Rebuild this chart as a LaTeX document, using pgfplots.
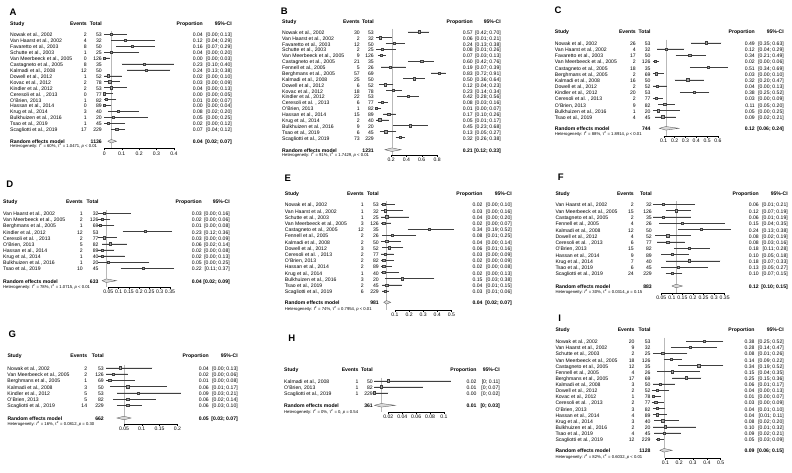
\documentclass[border=0pt]{standalone}
\usepackage{pgfplots}
\pgfplotsset{compat=1.18}
\usepackage{pgfplotstable}
\usepackage{fontspec}
\setmainfont{Liberation Sans}
\newcommand\ft{\fontsize{5.1}{6}\selectfont}
\newcommand\fh{\fontsize{4.2}{5}\selectfont}
\def\splitci#1,#2\relax{\symbol{91}#1; #2\symbol{93}}

\pgfplotsset{
 fp/.style={anchor=south west, y=1pt, axis x line*=bottom, axis y line=none, ytick=\empty,
   clip=false, enlargelimits=false, tick align=outside, major tick length=2pt,
   xticklabel style={font=\ft, inner sep=1pt},
   axis line style={line width=0.35pt, black},
   every tick/.style={black, line width=0.35pt}},
 refl/.style={gray!55, line width=0.35pt},
 diam/.style={fill=gray!30, draw=gray!60!black, line width=0.3pt},
}

\newcommand\textcol[4]{%
 \addplot[draw=none, mark=none, nodes near coords, point meta=explicit symbolic,
   every node near coord/.append style={anchor=#4, inner sep=0pt, text=black, font=\ft}]
   table[x expr={(#3-\pz)/\sl}, y expr={-(\ya+\thisrow{i}*\dy)}, meta=#2] {#1};
}
\newcommand\forest[1]{%
 \addplot[only marks, mark=square*, mark size=1.15pt, color=gray!50!black, fill=gray!70,
   mark options={solid, fill=gray!70, draw=gray!50!black, line width=0.25pt},
   error bars/.cd, x dir=both, x explicit, error mark=none,
   error bar style={black!75, line width=0.35pt}]
   table[x=p, y expr={-(\ya+\thisrow{i}*\dy)},
     x error plus expr={\thisrow{hi}-\thisrow{p}},
     x error minus expr={\thisrow{p}-\thisrow{lo}}] {#1};
 \textcol{#1}{study}{\cS}{mid west}
 \textcol{#1}{ev}{\cE}{mid east}
 \textcol{#1}{tot}{\cT}{mid east}
 \textcol{#1}{p}{\cP}{mid east}
 \addplot[draw=none, mark=none, point meta=explicit symbolic,
   nodes near coords={\expandafter\splitci\pgfplotspointmeta\relax},
   every node near coord/.append style={anchor=mid east, inner sep=0pt, text=black, font=\ft}]
   table[x expr={(\cC-\pz)/\sl}, y expr={-(\ya+\thisrow{i}*\dy)}, meta=ci] {#1};
}
\newcommand\hdr[4]{%
 \node[font=\fontsize{9.5}{11}\selectfont\bfseries, inner sep=0pt] at (#2pt,-#3pt) {#1};
 \node[font=\ft\bfseries, anchor=mid west, inner sep=0pt] at (\cS pt,-#4pt) {Study};
 \node[font=\ft\bfseries, anchor=mid east, inner sep=0pt] at (\cE pt,-#4pt) {Events};
 \node[font=\ft\bfseries, anchor=mid east, inner sep=0pt] at (\cT pt,-#4pt) {Total};
 \node[font=\ft\bfseries, anchor=mid east, inner sep=0pt] at (\cP pt,-#4pt) {Proportion};
 \node[font=\ft\bfseries, anchor=mid east, inner sep=0pt] at (\cC pt,-#4pt) {95\%-CI};
}
\newcommand\re[4]{%
 \node[font=\ft\bfseries, anchor=mid west, inner sep=0pt] at (\cS pt,-#1pt) {Random effects model};
 \node[font=\ft\bfseries, anchor=mid east, inner sep=0pt] at (\cT pt,-#1pt) {#2};
 \node[font=\ft\bfseries, anchor=mid east, inner sep=0pt] at (\cP pt,-#1pt) {#3};
 \node[font=\ft\bfseries, anchor=mid east, inner sep=0pt] at (\cC pt,-#1pt) {#4};
}
\newcommand\het[4]{%
 \node[font=\fh, anchor=mid west, inner sep=0pt] at (\cS pt,-#1pt)
  {Heterogeneity: \textit{I}\textsuperscript{2} = #2\%, τ\textsuperscript{2} = #3, \textit{p} #4};
}

\pgfplotstableread{
i study ev tot p lo hi ci
0 {Nowak et al., 2002} 2 53 0.04 0.00 0.13 {0.00,0.13}
1 {Van Haarst et al., 2002} 4 32 0.12 0.04 0.29 {0.04,0.29}
2 {Favaretto et al., 2003} 8 50 0.16 0.07 0.29 {0.07,0.29}
3 {Schutte et al., 2003} 1 25 0.04 0.00 0.20 {0.00,0.20}
4 {Van Meerbeeck et al., 2005} 0 126 0.00 0.00 0.03 {0.00,0.03}
5 {Castagneto et al., 2005} 8 35 0.23 0.10 0.40 {0.10,0.40}
6 {Kalmadi et al., 2008} 12 50 0.24 0.13 0.38 {0.13,0.38}
7 {Dowell et al., 2012} 1 52 0.02 0.00 0.10 {0.00,0.10}
8 {Kovac et al., 2012} 2 78 0.03 0.00 0.09 {0.00,0.09}
9 {Kindler et al., 2012} 2 53 0.04 0.00 0.13 {0.00,0.13}
10 {Ceresoli et al. , 2013} 0 77 0.00 0.00 0.05 {0.00,0.05}
11 {O'Brien, 2013} 1 82 0.01 0.00 0.07 {0.00,0.07}
12 {Hassan et al., 2014} 0 89 0.00 0.00 0.04 {0.00,0.04}
13 {Krug et al., 2014} 3 40 0.08 0.02 0.20 {0.02,0.20}
14 {Bulkhuizen et al., 2016} 1 20 0.05 0.00 0.25 {0.00,0.25}
15 {Tsao et al., 2019} 1 45 0.02 0.00 0.12 {0.00,0.12}
16 {Scagliotti et al., 2019} 17 229 0.07 0.04 0.12 {0.04,0.12}
}\tabA

\pgfplotstableread{
i study ev tot p lo hi ci
0 {Nowak et al., 2002} 30 53 0.57 0.42 0.70 {0.42,0.70}
1 {Van Haarst et al., 2002} 2 32 0.06 0.01 0.21 {0.01,0.21}
2 {Favaretto et al., 2003} 12 50 0.24 0.13 0.38 {0.13,0.38}
3 {Schutte et al., 2003} 2 25 0.08 0.01 0.26 {0.01,0.26}
4 {Van Meerbeeck et al., 2005} 9 126 0.07 0.03 0.13 {0.03,0.13}
5 {Castagneto et al., 2005} 21 35 0.60 0.42 0.76 {0.42,0.76}
6 {Fennell et al., 2005} 5 26 0.19 0.07 0.39 {0.07,0.39}
7 {Berghmans et al., 2005} 57 69 0.83 0.72 0.91 {0.72,0.91}
8 {Kalmadi et al., 2008} 25 50 0.50 0.36 0.64 {0.36,0.64}
9 {Dowell et al., 2012} 6 52 0.12 0.04 0.23 {0.04,0.23}
10 {Kovac et al., 2012} 18 78 0.23 0.14 0.34 {0.14,0.34}
11 {Kindler et al., 2012} 22 53 0.42 0.28 0.56 {0.28,0.56}
12 {Ceresoli et al. , 2013} 6 77 0.08 0.03 0.16 {0.03,0.16}
13 {O'Brien, 2013} 1 82 0.01 0.00 0.07 {0.00,0.07}
14 {Hassan et al., 2014} 15 89 0.17 0.10 0.26 {0.10,0.26}
15 {Krug et al., 2014} 2 40 0.05 0.01 0.17 {0.01,0.17}
16 {Bulkhuizen et al., 2016} 9 20 0.45 0.23 0.68 {0.23,0.68}
17 {Tsao et al., 2019} 6 45 0.13 0.05 0.27 {0.05,0.27}
18 {Scagliotti et al., 2019} 73 229 0.32 0.26 0.38 {0.26,0.38}
}\tabB

\pgfplotstableread{
i study ev tot p lo hi ci
0 {Nowak et al., 2002} 26 53 0.49 0.35 0.63 {0.35,0.63}
1 {Van Haarst et al., 2002} 4 32 0.12 0.04 0.29 {0.04,0.29}
2 {Favaretto et al., 2003} 17 50 0.34 0.21 0.49 {0.21,0.49}
3 {Van Meerbeeck et al., 2005} 2 126 0.02 0.00 0.06 {0.00,0.06}
4 {Castagneto et al., 2005} 18 35 0.51 0.34 0.69 {0.34,0.69}
5 {Berghmans et al., 2005} 2 69 0.03 0.00 0.10 {0.00,0.10}
6 {Kalmadi et al., 2008} 16 50 0.32 0.20 0.47 {0.20,0.47}
7 {Dowell et al., 2012} 2 52 0.04 0.00 0.13 {0.00,0.13}
8 {Kindler et al., 2012} 20 53 0.38 0.25 0.52 {0.25,0.52}
9 {Ceresoli et al. , 2013} 2 77 0.03 0.00 0.09 {0.00,0.09}
10 {O'Brien, 2013} 9 82 0.11 0.05 0.20 {0.05,0.20}
11 {Bulkhuizen et al., 2016} 1 20 0.05 0.00 0.25 {0.00,0.25}
12 {Tsao et al., 2019} 4 45 0.09 0.02 0.21 {0.02,0.21}
}\tabC

\pgfplotstableread{
i study ev tot p lo hi ci
0 {Van Haarst et al., 2002} 1 32 0.03 0.00 0.16 {0.00,0.16}
1 {Van Meerbeeck et al., 2005} 2 126 0.02 0.00 0.06 {0.00,0.06}
2 {Berghmans et al., 2005} 1 69 0.01 0.00 0.08 {0.00,0.08}
3 {Kindler et al., 2012} 12 53 0.23 0.12 0.36 {0.12,0.36}
4 {Ceresoli et al. , 2013} 2 77 0.03 0.00 0.09 {0.00,0.09}
5 {O'Brien, 2013} 5 82 0.06 0.02 0.14 {0.02,0.14}
6 {Hassan et al., 2014} 2 89 0.02 0.00 0.08 {0.00,0.08}
7 {Krug et al., 2014} 1 40 0.02 0.00 0.13 {0.00,0.13}
8 {Bulkhuizen et al., 2016} 1 20 0.05 0.00 0.25 {0.00,0.25}
9 {Tsao et al., 2019} 10 45 0.22 0.11 0.37 {0.11,0.37}
}\tabD

\pgfplotstableread{
i study ev tot p lo hi ci
0 {Nowak et al., 2002} 1 53 0.02 0.00 0.10 {0.00,0.10}
1 {Van Haarst et al., 2002} 1 32 0.03 0.00 0.16 {0.00,0.16}
2 {Schutte et al., 2003} 1 25 0.04 0.00 0.20 {0.00,0.20}
3 {Van Meerbeeck et al., 2005} 3 126 0.02 0.00 0.07 {0.00,0.07}
4 {Castagneto et al., 2005} 12 35 0.34 0.19 0.52 {0.19,0.52}
5 {Fennell et al., 2005} 2 26 0.08 0.01 0.25 {0.01,0.25}
6 {Kalmadi et al., 2008} 2 50 0.04 0.00 0.14 {0.00,0.14}
7 {Dowell et al., 2012} 3 52 0.06 0.01 0.16 {0.01,0.16}
8 {Ceresoli et al. , 2013} 2 77 0.03 0.00 0.09 {0.00,0.09}
9 {O'Brien, 2013} 2 82 0.02 0.00 0.09 {0.00,0.09}
10 {Hassan et al., 2014} 2 89 0.02 0.00 0.08 {0.00,0.08}
11 {Krug et al., 2014} 1 40 0.02 0.00 0.13 {0.00,0.13}
12 {Bulkhuizen et al., 2016} 3 20 0.15 0.03 0.38 {0.03,0.38}
13 {Tsao et al., 2019} 2 45 0.04 0.01 0.15 {0.01,0.15}
14 {Scagliotti et al., 2019} 6 229 0.03 0.01 0.06 {0.01,0.06}
}\tabE

\pgfplotstableread{
i study ev tot p lo hi ci
0 {Van Haarst et al., 2002} 2 32 0.06 0.01 0.21 {0.01,0.21}
1 {Van Meerbeeck et al., 2005} 15 126 0.12 0.07 0.19 {0.07,0.19}
2 {Castagneto et al., 2005} 2 35 0.06 0.01 0.19 {0.01,0.19}
3 {Fennell et al., 2005} 4 26 0.15 0.04 0.35 {0.04,0.35}
4 {Kalmadi et al., 2008} 12 50 0.24 0.13 0.38 {0.13,0.38}
5 {Dowell et al., 2012} 4 52 0.08 0.02 0.19 {0.02,0.19}
6 {Ceresoli et al. , 2013} 6 77 0.08 0.03 0.16 {0.03,0.16}
7 {O'Brien, 2013} 15 82 0.18 0.11 0.28 {0.11,0.28}
8 {Hassan et al., 2014} 9 89 0.10 0.05 0.18 {0.05,0.18}
9 {Krug et al., 2014} 7 40 0.18 0.07 0.33 {0.07,0.33}
10 {Tsao et al., 2019} 6 45 0.13 0.05 0.27 {0.05,0.27}
11 {Scagliotti et al., 2019} 24 229 0.10 0.07 0.15 {0.07,0.15}
}\tabF

\pgfplotstableread{
i study ev tot p lo hi ci
0 {Nowak et al., 2002} 2 53 0.04 0.00 0.13 {0.00,0.13}
1 {Van Meerbeeck et al., 2005} 2 126 0.02 0.00 0.06 {0.00,0.06}
2 {Berghmans et al., 2005} 1 69 0.01 0.00 0.08 {0.00,0.08}
3 {Kalmadi et al., 2008} 3 50 0.06 0.01 0.17 {0.01,0.17}
4 {Kindler et al., 2012} 5 53 0.09 0.03 0.21 {0.03,0.21}
5 {O'Brien, 2013} 5 82 0.06 0.02 0.14 {0.02,0.14}
6 {Scagliotti et al., 2019} 14 229 0.06 0.03 0.10 {0.03,0.10}
}\tabG

\pgfplotstableread{
i study ev tot p lo hi ci
0 {Kalmadi et al., 2008} 1 50 0.02 0 0.11 {0,0.11}
1 {O'Brien, 2013} 1 82 0.01 0 0.07 {0,0.07}
2 {Scagliotti et al., 2019} 1 229 0.00 0 0.02 {0,0.02}
}\tabH

\pgfplotstableread{
i study ev tot p lo hi ci
0 {Nowak et al., 2002} 20 53 0.38 0.25 0.52 {0.25,0.52}
1 {Van Haarst et al., 2002} 9 32 0.28 0.14 0.47 {0.14,0.47}
2 {Schutte et al., 2003} 2 25 0.08 0.01 0.26 {0.01,0.26}
3 {Van Meerbeeck et al., 2005} 18 126 0.14 0.09 0.22 {0.09,0.22}
4 {Castagneto et al., 2005} 12 35 0.34 0.19 0.52 {0.19,0.52}
5 {Fennell et al., 2005} 4 26 0.15 0.04 0.35 {0.04,0.35}
6 {Berghmans et al., 2005} 17 69 0.25 0.15 0.36 {0.15,0.36}
7 {Kalmadi et al., 2008} 3 50 0.06 0.01 0.17 {0.01,0.17}
8 {Dowell et al., 2012} 2 52 0.04 0.00 0.13 {0.00,0.13}
9 {Kovac et al., 2012} 1 78 0.01 0.00 0.07 {0.00,0.07}
10 {Ceresoli et al. , 2013} 2 77 0.03 0.00 0.09 {0.00,0.09}
11 {O'Brien, 2013} 3 82 0.04 0.01 0.10 {0.01,0.10}
12 {Hassan et al., 2014} 4 89 0.04 0.01 0.11 {0.01,0.11}
13 {Krug et al., 2014} 3 40 0.08 0.02 0.20 {0.02,0.20}
14 {Bulkhuizen et al., 2016} 2 20 0.10 0.01 0.32 {0.01,0.32}
15 {Tsao et al., 2019} 4 45 0.09 0.02 0.21 {0.02,0.21}
16 {Scagliotti et al., 2019} 12 229 0.05 0.03 0.09 {0.03,0.09}
}\tabI

\begin{document}
\begin{tikzpicture}
\useasboundingbox (0,0) rectangle (792pt,-472pt);

% ---------------- A
\def\pz{104.3}\def\sl{174}\def\ya{34.3}\def\dy{5.92}
\def\cS{10}\def\cE{87}\def\cT{102}\def\cP{203}\def\cC{232}
\begin{axis}[fp, at={(104.3pt,-148.3pt)}, x=174pt, xmin=0, xmax=0.4, ymin=-148.3, ymax=-20,
  xtick={0,0.1,0.2,0.3,0.4}, xticklabels={0,0.1,0.2,0.3,0.4}]
\addplot[refl] coordinates {(0.04,-31) (0.04,-148.3)};
\forest{\tabA}
\addplot[diam] coordinates {(0.02,-141.2) (0.04,-139.4) (0.07,-141.2) (0.04,-143)} -- cycle;
\end{axis}
\hdr{A}{13}{12.7}{23}
\re{141.2}{1136}{0.04}{[0.02; 0.07]}
\het{145.3}{60}{1.0471}{< 0.01}

% ---------------- B
\def\pz{375.7}\def\sl{76.7}\def\ya{31.7}\def\dy{5.87}
\def\cS{282}\def\cE{360}\def\cT{374}\def\cP{473}\def\cC{501}
\begin{axis}[fp, at={(391.04pt,-155pt)}, x=76.7pt, xmin=0.2, xmax=0.8, ymin=-155, ymax=-20,
  xtick={0.2,0.4,0.6,0.8}, xticklabels={0.2,0.4,0.6,0.8}]
\addplot[refl] coordinates {(0.21,-28.5) (0.21,-155)};
\forest{\tabB}
\addplot[diam] coordinates {(0.12,-149.7) (0.21,-147.9) (0.33,-149.7) (0.21,-151.5)} -- cycle;
\end{axis}
\hdr{B}{284.3}{11.7}{20.7}
\re{149.7}{1231}{0.21}{[0.12; 0.33]}
\het{154}{91}{1.7429}{< 0.01}

% ---------------- C
\def\pz{652.8}\def\sl{108.7}\def\ya{42.7}\def\dy{6.17}
\def\cS{554.7}\def\cE{636}\def\cT{650.7}\def\cP{755}\def\cC{784}
\begin{axis}[fp, at={(663.67pt,-135.7pt)}, x=108.7pt, xmin=0.1, xmax=0.6, ymin=-135.7, ymax=-20,
  xtick={0.1,0.2,0.3,0.4,0.5,0.6}, xticklabels={0.1,0.2,0.3,0.4,0.5,0.6}]
\addplot[refl] coordinates {(0.12,-39.5) (0.12,-135.7)};
\forest{\tabC}
\addplot[diam] coordinates {(0.06,-128.3) (0.12,-126.5) (0.24,-128.3) (0.12,-130.1)} -- cycle;
\end{axis}
\hdr{C}{558}{10}{30.7}
\re{128.3}{744}{0.12}{[0.06; 0.24]}
\het{132.7}{88}{1.8914}{< 0.01}

% ---------------- D
\def\pz{98}\def\sl{205.6}\def\ya{213}\def\dy{6.14}
\def\cS{3}\def\cE{83}\def\cT{98.7}\def\cP{202}\def\cC{230}
\begin{axis}[fp, at={(108.28pt,-287pt)}, x=205.6pt, xmin=0.05, xmax=0.35, ymin=-287, ymax=-190,
  xtick={0.05,0.1,0.15,0.2,0.25,0.3,0.35}, xticklabels={0.05,0.1,0.15,0.2,0.25,0.3,0.35}]
\addplot[refl] coordinates {(0.04,-210) (0.04,-287)};
\forest{\tabD}
\addplot[diam] coordinates {(0.02,-280.7) (0.04,-278.9) (0.09,-280.7) (0.04,-282.5)} -- cycle;
\end{axis}
\hdr{D}{9.7}{183.8}{201}
\re{280.7}{633}{0.04}{[0.02; 0.09]}
\het{286}{78}{1.0715}{< 0.01}

% ---------------- E
\def\pz{380.9}\def\sl{140.8}\def\ya{204.3}\def\dy{6.19}
\def\cS{284.7}\def\cE{364}\def\cT{379}\def\cP{482.7}\def\cC{512}
\begin{axis}[fp, at={(394.98pt,-310pt)}, x=140.8pt, xmin=0.1, xmax=0.5, ymin=-310, ymax=-185,
  xtick={0.1,0.2,0.3,0.4,0.5}, xticklabels={0.1,0.2,0.3,0.4,0.5}]
\addplot[refl] coordinates {(0.04,-201) (0.04,-310)};
\forest{\tabE}
\addplot[diam] coordinates {(0.02,-302.3) (0.04,-300.5) (0.07,-302.3) (0.04,-304.1)} -- cycle;
\end{axis}
\hdr{E}{287.7}{178.7}{192.7}
\re{302.3}{981}{0.04}{[0.02; 0.07]}
\het{307.5}{74}{0.7954}{< 0.01}

% ---------------- F
\def\pz{650.8}\def\sl{211}\def\ya{204.3}\def\dy{6.27}
\def\cS{555.3}\def\cE{634}\def\cT{652}\def\cP{759}\def\cC{788}
\begin{axis}[fp, at={(661.35pt,-293pt)}, x=211pt, xmin=0.05, xmax=0.35, ymin=-293, ymax=-185,
  xtick={0.05,0.1,0.15,0.2,0.25,0.3,0.35}, xticklabels={0.05,0.1,0.15,0.2,0.25,0.3,0.35}]
\addplot[refl] coordinates {(0.12,-201) (0.12,-293)};
\forest{\tabF}
\addplot[diam] coordinates {(0.10,-286) (0.12,-284.2) (0.15,-286) (0.12,-287.8)} -- cycle;
\end{axis}
\hdr{F}{560.8}{177.7}{192.7}
\re{286}{883}{0.12}{[0.10; 0.15]}
\het{291}{30}{0.0314}{= 0.15}

% ---------------- G
\def\pz{106.2}\def\sl{355.6}\def\ya{367.7}\def\dy{6.27}
\def\cS{7.3}\def\cE{87.3}\def\cT{104}\def\cP{209}\def\cC{238}
\begin{axis}[fp, at={(123.98pt,-424pt)}, x=355.6pt, xmin=0.05, xmax=0.2, ymin=-424, ymax=-345,
  xtick={0.05,0.1,0.15,0.2}, xticklabels={0.05,0.1,0.15,0.2}]
\addplot[refl] coordinates {(0.05,-364.5) (0.05,-424)};
\forest{\tabG}
\addplot[diam] coordinates {(0.03,-418) (0.05,-416.2) (0.07,-418) (0.05,-419.8)} -- cycle;
\end{axis}
\hdr{G}{12.2}{334.2}{355.3}
\re{418}{662}{0.05}{[0.03; 0.07]}
\het{423.3}{16}{0.0812}{= 0.30}

% ---------------- H
\def\pz{374.4}\def\sl{695.8}\def\ya{380.7}\def\dy{6}
\def\cS{284}\def\cE{358.7}\def\cT{373}\def\cP{476.7}\def\cC{500}
\begin{axis}[fp, at={(388.32pt,-412pt)}, x=695.8pt, xmin=0.02, xmax=0.1, ymin=-412, ymax=-360,
  xtick={0.02,0.04,0.06,0.08,0.1}, xticklabels={0.02,0.04,0.06,0.08,0.1}]
\addplot[refl] coordinates {(0.01,-377.5) (0.01,-412)};
\forest{\tabH}
\addplot[diam] coordinates {(0,-405.3) (0.01,-403.5) (0.03,-405.3) (0.01,-407.1)} -- cycle;
\end{axis}
\hdr{H}{291.8}{338.7}{368.7}
\re{405.3}{361}{0.01}{[0; 0.03]}
\het{411.3}{0}{0}{= 0.54}

% ---------------- I
\def\pz{651.5}\def\sl{138.3}\def\ya{341}\def\dy{6.125}
\def\cS{555.3}\def\cE{634.7}\def\cT{650.7}\def\cP{754.7}\def\cC{784}
\begin{axis}[fp, at={(665.33pt,-458pt)}, x=138.3pt, xmin=0.1, xmax=0.5, ymin=-458, ymax=-325,
  xtick={0.1,0.2,0.3,0.4,0.5}, xticklabels={0.1,0.2,0.3,0.4,0.5}]
\addplot[refl] coordinates {(0.09,-337.5) (0.09,-458)};
\forest{\tabI}
\addplot[diam] coordinates {(0.06,-450.3) (0.09,-448.5) (0.15,-450.3) (0.09,-452.1)} -- cycle;
\end{axis}
\hdr{I}{559.7}{318}{328.7}
\re{450.3}{1128}{0.09}{[0.06; 0.15]}
\het{456}{82}{0.6032}{< 0.01}

\end{tikzpicture}
\end{document}
